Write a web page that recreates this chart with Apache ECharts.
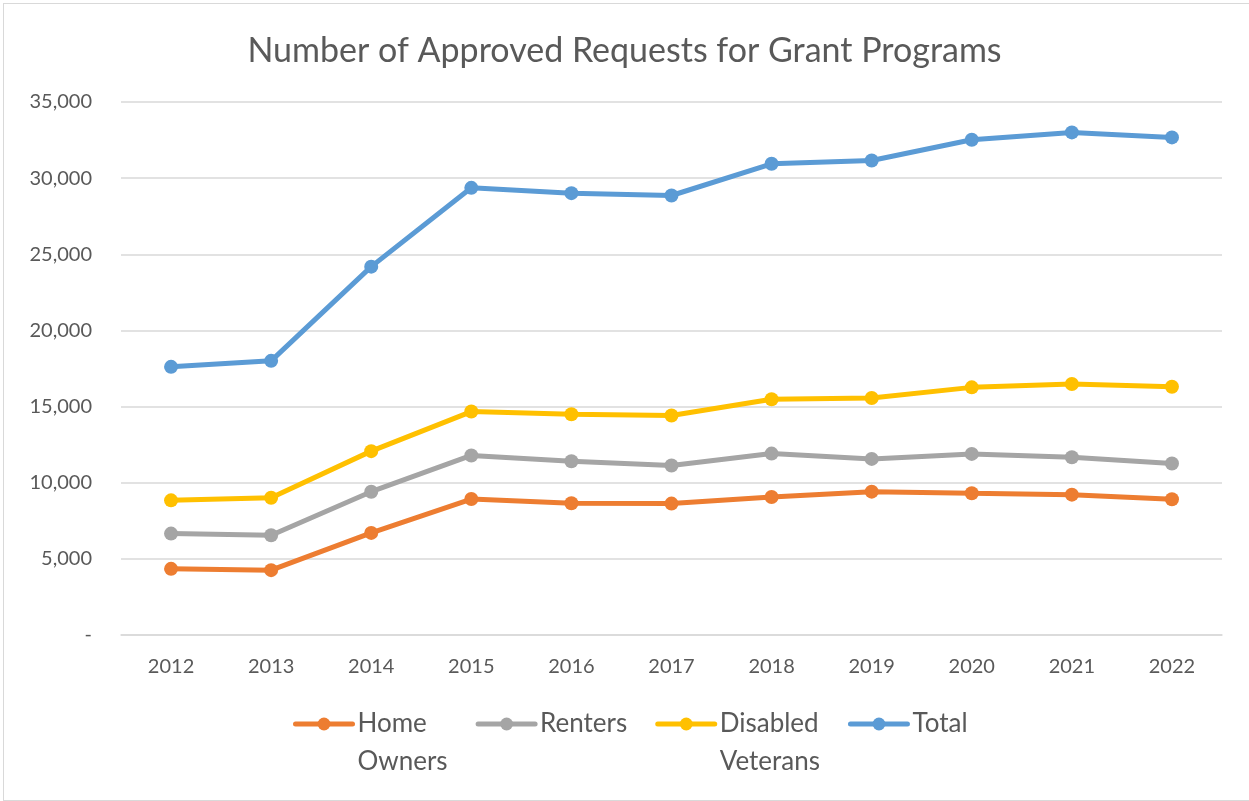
<!DOCTYPE html>
<html>
<head>
<meta charset="utf-8">
<script src="https://cdn.jsdelivr.net/npm/echarts@6/dist/echarts.min.js"></script>
<style>
  body { margin: 0; background: #fff; }
  #frame { position: absolute; left: 3px; top: 3px; width: 1250px; height: 796px; border: 1px solid #d9d9d9; }
  #main { position: absolute; left: 0; top: 0; width: 1249px; height: 801px; }
</style>
</head>
<body>
<div id="frame"></div>
<div id="main"></div>
<script>
var years = ['2012', '2013', '2014', '2015', '2016', '2017', '2018', '2019', '2020', '2021', '2022'];
var homeOwners = [4345, 4258, 6703, 8930, 8652, 8630, 9065, 9413, 9304, 9217, 8913];
var renters = [6659, 6550, 9410, 11790, 11413, 11130, 11913, 11565, 11891, 11674, 11261];
var disabledVeterans = [8843, 9017, 12074, 14672, 14500, 14413, 15478, 15565, 16261, 16478, 16304];
var total = [17610, 18004, 24189, 29364, 29013, 28860, 30943, 31162, 32522, 33004, 32675];

var seriesNames = ['Home\nOwners', 'Renters', 'Disabled\nVeterans', 'Total'];
var seriesColors = ['#ED7D31', '#A5A5A5', '#FFC000', '#5B9BD5'];
var seriesData = [homeOwners, renters, disabledVeterans, total];

var fontName = 'Lato';
var textGrey = '#595959';

window.onload = function () {
    var myChart = echarts.init(document.getElementById('main'));

    var series = [];
    for (var i = 0; i < seriesNames.length; i++) {
        series.push({
            name: seriesNames[i],
            type: 'line',
            data: seriesData[i],
            symbol: 'circle',
            symbolSize: 14,
            color: seriesColors[i],
            lineStyle: { width: 5, color: seriesColors[i], cap: 'round' },
            itemStyle: { color: seriesColors[i] },
            animation: false
        });
    }

    var options = {
        title: {
            text: 'Number of Approved Requests for Grant Programs',
            left: 'center',
            top: 29,
            textStyle: {
                fontFamily: fontName,
                fontSize: 34,
                fontWeight: 'normal',
                color: textGrey
            }
        },
        legend: {
            data: seriesNames,
            left: 288,
            top: 662,
            itemWidth: 57,
            itemHeight: 16,
            itemGap: 28,
            lineStyle: { width: 5, cap: 'round' },
            // blank first line so the first text line sits level with the icon
            formatter: function (name) {
                if (name.indexOf('\n') != -1) {
                    return '\n' + name;
                }
                return name;
            },
            textStyle: {
                fontFamily: fontName,
                fontSize: 26,
                lineHeight: 38,
                color: textGrey
            }
        },
        grid: {
            left: 121,
            right: 27,
            top: 102,
            bottom: 166
        },
        xAxis: {
            type: 'category',
            data: years,
            axisTick: { show: false },
            axisLine: { lineStyle: { color: '#d9d9d9', width: 1.5 } },
            axisLabel: {
                margin: 22,
                fontFamily: fontName,
                fontSize: 20,
                color: textGrey
            }
        },
        yAxis: {
            type: 'value',
            min: 0,
            max: 35000,
            interval: 5000,
            axisLine: { show: false },
            axisTick: { show: false },
            splitLine: { lineStyle: { color: '#d9d9d9', width: 1.5 } },
            axisLabel: {
                margin: 29,
                fontFamily: fontName,
                fontSize: 20,
                color: textGrey,
                formatter: function (v) {
                    if (v == 0) {
                        return '-';
                    }
                    return v.toLocaleString('en-US');
                }
            }
        },
        series: series
    };
    myChart.setOption(options);
};
</script>
</body>
</html>
